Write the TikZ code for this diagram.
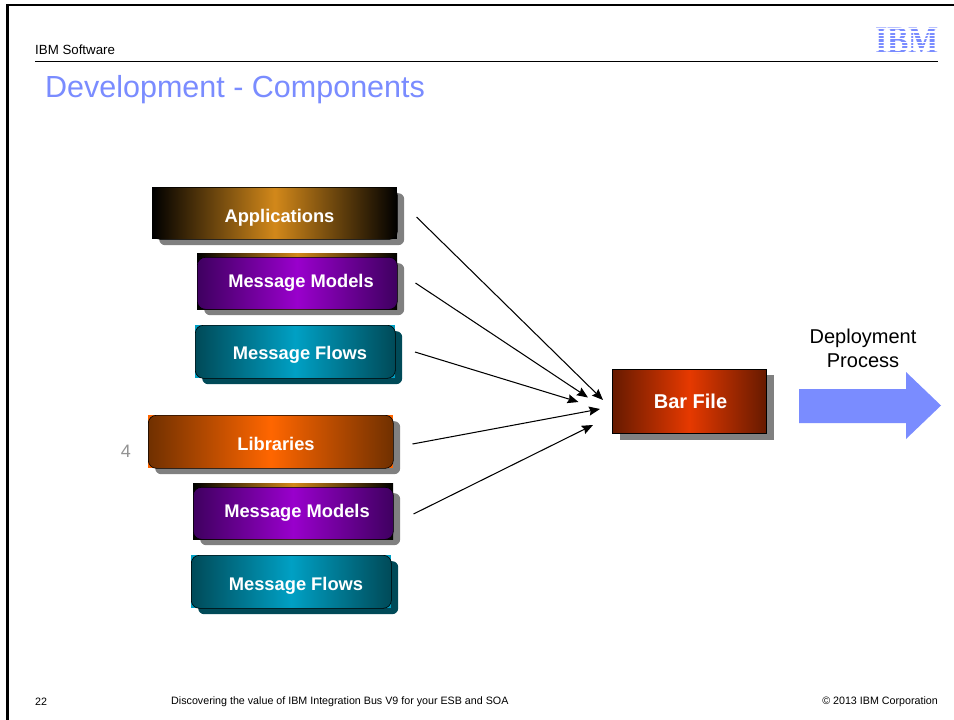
\documentclass[tikz,border=0pt]{standalone}
\usepackage{fontspec}
\setmainfont{Liberation Sans}
\newfontfamily\logofont{Liberation Serif}
\usetikzlibrary{arrows.meta}
\definecolor{titleblue}{HTML}{7A8CFF}
\definecolor{shadowgray}{HTML}{808080}
\definecolor{appmid}{HTML}{D2881A}
\definecolor{modelmid}{HTML}{9900CC}
\definecolor{modelend}{HTML}{3F0060}
\definecolor{flowmid}{HTML}{00A0C4}
\definecolor{flowend}{HTML}{004A58}
\definecolor{libmid}{HTML}{FF6600}
\definecolor{libend}{HTML}{703000}
\definecolor{barmid}{HTML}{E63900}
\definecolor{barend}{HTML}{661A00}
\tikzset{
  x=1pt,y=-1pt,
  boxlabel/.style={text=white,font=\bfseries\fontsize{18.3}{20}\selectfont},
  gshadow/.style={fill=shadowgray,rounded corners=6pt,inner sep=0pt,anchor=north west},
  corner/.style={inner sep=0pt,anchor=north west},
  gbox/.style={draw=black,line width=0.6pt,rounded corners=8pt,inner sep=0pt,anchor=north west},
  footer/.style={font=\fontsize{10.7}{12}\selectfont,anchor=west,inner sep=0pt},
  conn/.style={-{Stealth[length=11pt,width=9pt,inset=1.5pt]},line width=1.05pt,black},
}
% #1 name, #2 x, #3 y, #4 w, #5 h, #6 shadow colour, #7 corner colour, #8 end colour, #9 mid colour
\newcommand{\gradbox}[9]{%
  \node[gshadow,fill=#6,minimum width=#4pt,minimum height=#5pt] (#1s) at (#2+7,#3+6) {};
  \node[corner,fill=#7,minimum width=#4pt,minimum height=#5pt] (#1c) at (#2,#3) {};
  \node[gbox,left color=#8,right color=#8,middle color=#9,minimum width=#4pt,minimum height=#5pt] (#1) at (#2,#3) {};
}
% model box: an under-layer shows as a strip above the rounded box
% #1 name, #2 x, #3 y (under-layer top), #4 w
\newcommand{\modelbox}[4]{%
  \node[gshadow,minimum width=#4pt,minimum height=52pt] (#1s) at (#2+7,#3+10) {};
  \node[corner,left color=black,right color=black,middle color=appmid,minimum width=#4pt,minimum height=56pt] (#1c) at (#2,#3) {};
  \node[gbox,left color=modelend,right color=modelend,middle color=modelmid,minimum width=#4pt,minimum height=52pt] (#1) at (#2,#3+4) {};
}
\begin{document}
\begin{tikzpicture}
\useasboundingbox (0,0) rectangle (954,720);
\fill[white] (0,0) rectangle (954,720);
% frame
\draw[line width=2.4pt,black] (7.5,720) -- (7.5,5.2) -- (954,5.2);
% header
\node[anchor=west,inner sep=0pt,font=\fontsize{13.3}{15}\selectfont] (hdr) at (35,50) {IBM Software};
\coordinate (hl) at (35,61.5);
\coordinate (hr) at (938,61.5);
\draw[line width=0.8pt,black] (hl) -- (hr);
\node[anchor=west,inner sep=0pt,text=titleblue,font=\fontsize{30.5}{34}\selectfont] (title) at (45,90) {Development - Components};
% logo
\node[inner sep=0pt,text=titleblue,font=\logofont\bfseries\fontsize{39}{40}\selectfont] (logo) at (907,40.5) {\scalebox{0.82}[1]{IBM}};
\foreach \yy in {28.6,32,35.4,38.8,42.2,45.6,49,52.4}
  \draw[white,line width=1.1pt] (872,\yy) -- (942,\yy);
% boxes
\gradbox{apps}{152}{187}{245}{52}{shadowgray}{black}{black}{appmid}
\node[boxlabel] (appst) at (279.5,217.5) {Applications};
\modelbox{mm}{197}{253}{200}
\node[boxlabel] (mmt) at (301,282.5) {Message Models};
\gradbox{mf}{195}{325}{200}{53}{flowend}{flowmid}{flowend}{flowmid}
\node[boxlabel] (mft) at (300,355) {Message Flows};
\gradbox{lib}{148}{415}{245}{53}{shadowgray}{libmid}{libend}{libmid}
\node[boxlabel] (libt) at (276,444) {Libraries};
\modelbox{mm2}{193}{483}{200}
\node[boxlabel] (mm2t) at (297,512.5) {Message Models};
\gradbox{mf2}{191}{555}{200}{53}{flowend}{flowmid}{flowend}{flowmid}
\node[boxlabel] (mf2t) at (296,585.5) {Message Flows};
% bar file
\node[corner,fill=shadowgray,minimum width=154pt,minimum height=65pt] (bars) at (620,375) {};
\node[corner,draw=black,line width=0.7pt,left color=barend,right color=barend,middle color=barmid,minimum width=154pt,minimum height=64pt] (bar) at (612,369) {};
\node[boxlabel,font=\bfseries\fontsize{20}{22}\selectfont] (bart) at (690.5,401) {Bar File};
% number
\node[text=gray!85,font=\fontsize{18}{20}\selectfont,inner sep=0pt] (four) at (126,451) {4};
% arrows
\coordinate (a1s) at (416.5,217);  \coordinate (a1e) at (603,400);
\coordinate (a2s) at (415.5,283);  \coordinate (a2e) at (588,397.5);
\coordinate (a3s) at (415,352);    \coordinate (a3e) at (578.5,402);
\coordinate (a4s) at (412.5,444);  \coordinate (a4e) at (600,409);
\coordinate (a5s) at (413.5,514);  \coordinate (a5e) at (593,425);
\draw[conn] (a1s) -- (a1e);
\draw[conn] (a2s) -- (a2e);
\draw[conn] (a3s) -- (a3e);
\draw[conn] (a4s) -- (a4e);
\draw[conn] (a5s) -- (a5e);
% deployment
\node[align=center,inner sep=0pt,font=\fontsize{20}{24}\selectfont] (dep) at (863,348) {Deployment\\Process};
\fill[titleblue] (799,389) -- (906,389) -- (906,372) -- (941,405.5) -- (906,439) -- (906,423) -- (799,423) -- cycle;
% footer
\node[footer] (f1) at (35,702) {22};
\node[footer] (f2) at (171,702) {Discovering the value of IBM Integration Bus V9 for your ESB and SOA};
\node[footer,anchor=east] (f3) at (938,702) {© 2013 IBM Corporation};
\end{tikzpicture}
\end{document}
